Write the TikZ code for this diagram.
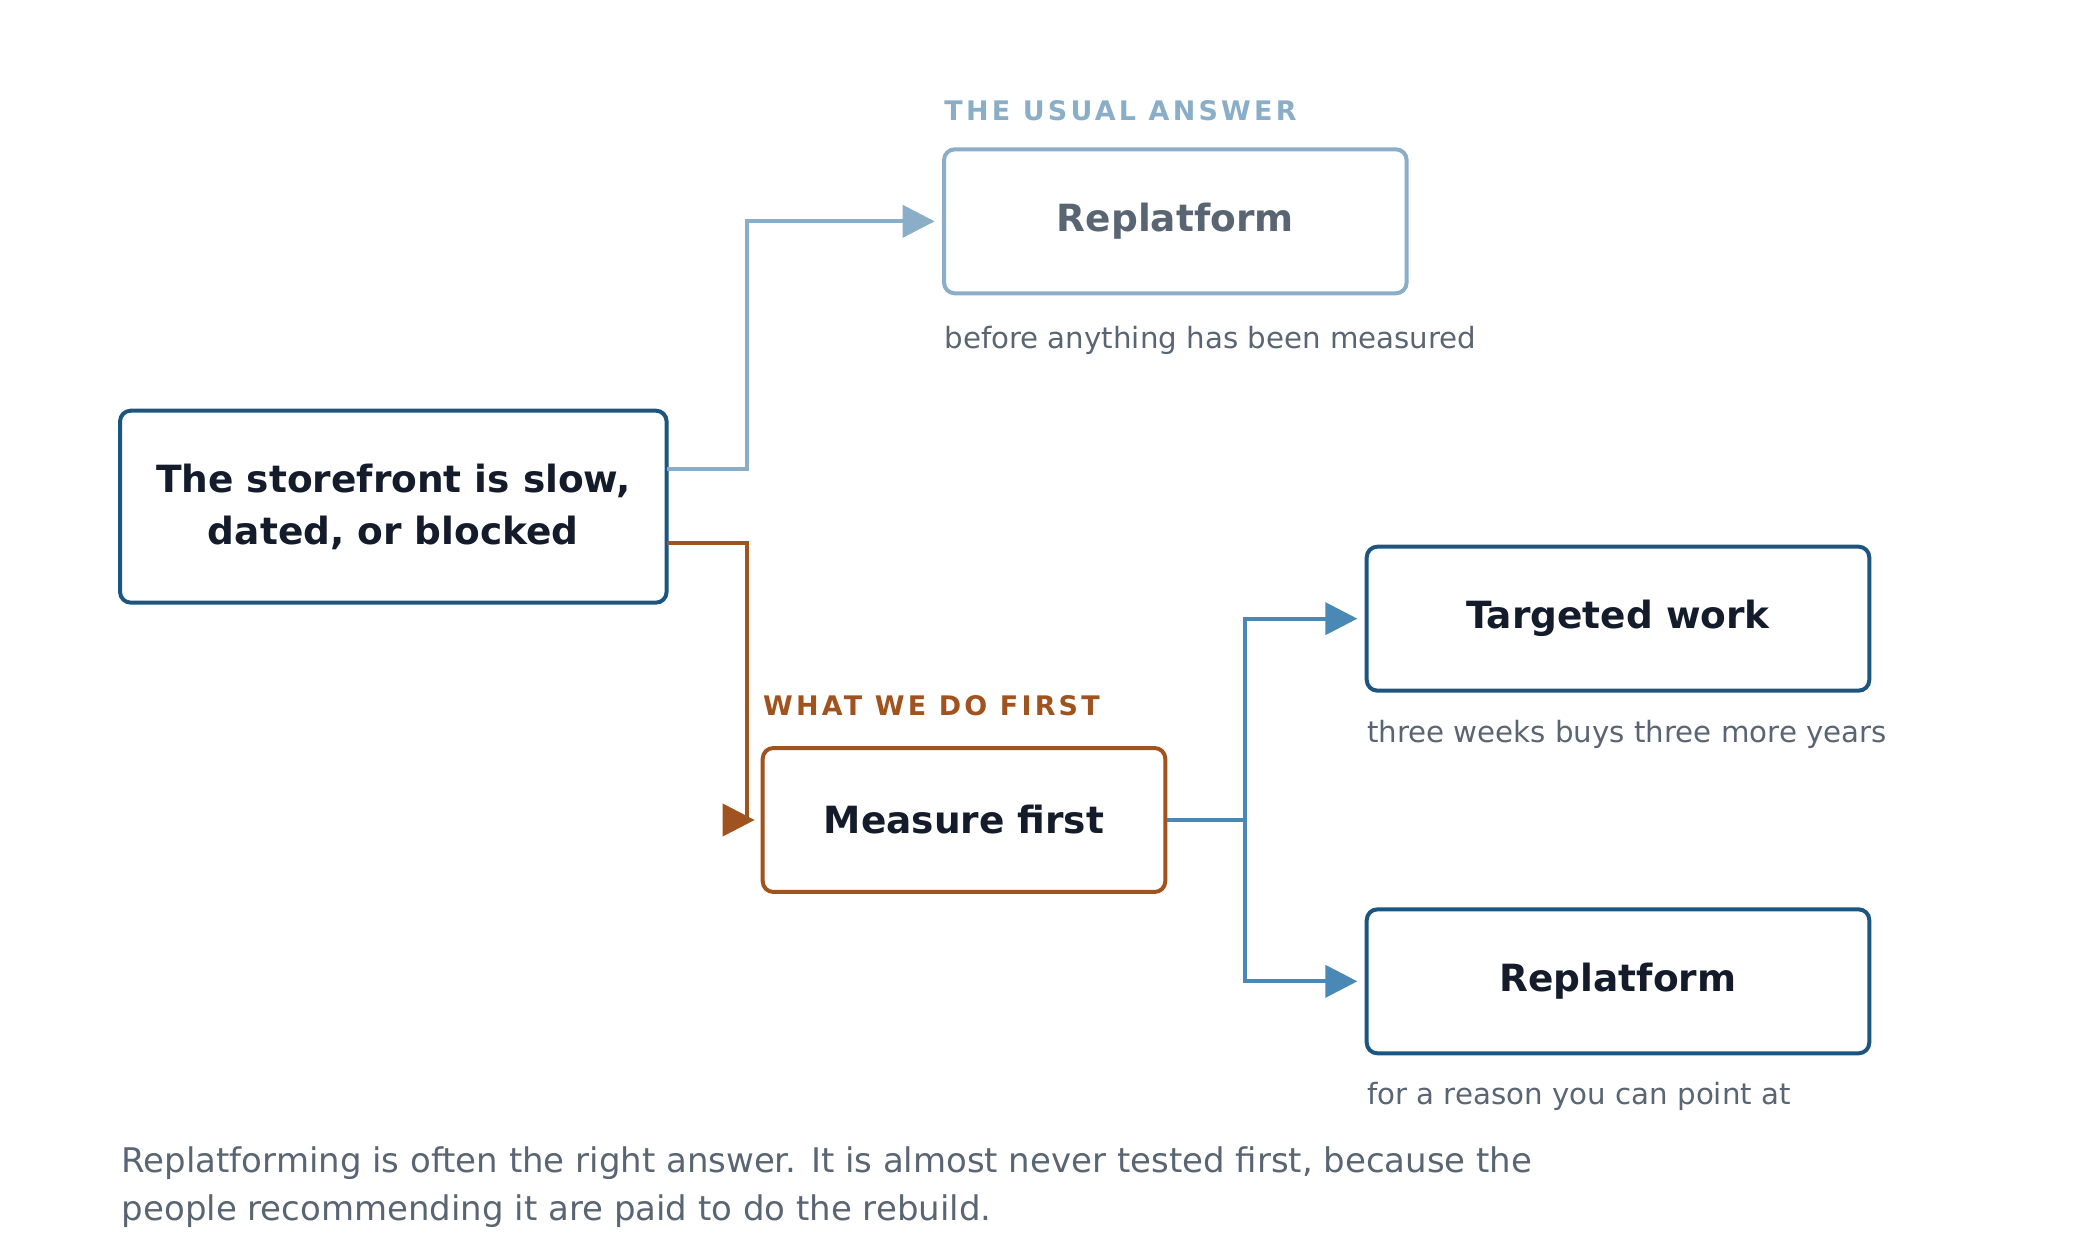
\documentclass[tikz,border=0pt]{standalone}
\usepackage{fontspec}
\setmainfont{DejaVu Sans}
\usetikzlibrary{positioning,arrows.meta}
\definecolor{navy}{HTML}{1B5580}
\definecolor{pale}{HTML}{8AAEC8}
\definecolor{rust}{HTML}{A0521F}
\definecolor{steel}{HTML}{4A88B5}
\definecolor{ink}{HTML}{141B2B}
\definecolor{note}{HTML}{5A6573}
\tikzset{
  box/.style={draw=navy,line width=1.7pt,rounded corners=0.16cm,text=ink,
    font=\bfseries\fontsize{16}{22}\selectfont,align=center,inner sep=0pt},
  caption/.style={anchor=west,text=note,font=\fontsize{12.5}{15}\selectfont,inner sep=0pt},
  tag/.style={anchor=west,font=\bfseries\fontsize{11.5}{14}\selectfont,inner sep=0pt},
  link/.style={line width=1.7pt,-{Triangle[length=0.48cm,width=0.48cm]}}
}
\begin{document}
\begin{tikzpicture}[x=0.02cm,y=-0.02cm]
    \useasboundingbox (0,0) rectangle (1560,936);

    \node (shop) [box,minimum width=8.2cm,minimum height=2.88cm] at (295,380)
        {The storefront is slow,\\dated, or blocked};
    \node (usual) [box,draw=pale,text=note,minimum width=6.94cm,minimum height=2.16cm] at (881.5,166) {Replatform};
    \node (measure) [box,draw=rust,minimum width=6.04cm,minimum height=2.16cm] at (723,615) {Measure first};
    \node (target) [box,minimum width=7.54cm,minimum height=2.16cm] at (1213.5,464) {Targeted work};
    \node (rebuild) [box,minimum width=7.54cm,minimum height=2.16cm] at (1213.5,736) {Replatform};

    \node (usualtag) [tag,text=pale] at (708,83) {\addfontfeature{LetterSpace=12}THE USUAL ANSWER};
    \node (firsttag) [tag,text=rust] at (572,529) {\addfontfeature{LetterSpace=12}WHAT WE DO FIRST};

    \node (usualnote) [caption] at (708,255) {before anything has been measured};
    \node (targetnote) [caption] at (1025,551) {three weeks buys three more years};
    \node (rebuildnote) [caption] at (1025,822) {for a reason you can point at};

    \node (footer) [anchor=north west,text=note,align=left,inner sep=0pt,
        font=\fontsize{14.5}{20.5}\selectfont] at (91,860)
        {Replatforming is often the right answer. It is almost never tested first, because the\\
         people recommending it are paid to do the rebuild.};

    \coordinate (up) at (500,352);
    \coordinate (down) at (500,407);
    \coordinate (drop) at (560,615);
    \coordinate (split) at (934,615);

    \draw[link,pale] (up) -| (560,166) -- (701,166);
    \draw[link,rust] (down) -| (drop) -- (566,615);
    \draw[line width=1.7pt,steel] (measure.east) -- (split);
    \draw[link,steel] (split) |- (1018,464);
    \draw[link,steel] (split) |- (1018,736);

\end{tikzpicture}
\end{document}
